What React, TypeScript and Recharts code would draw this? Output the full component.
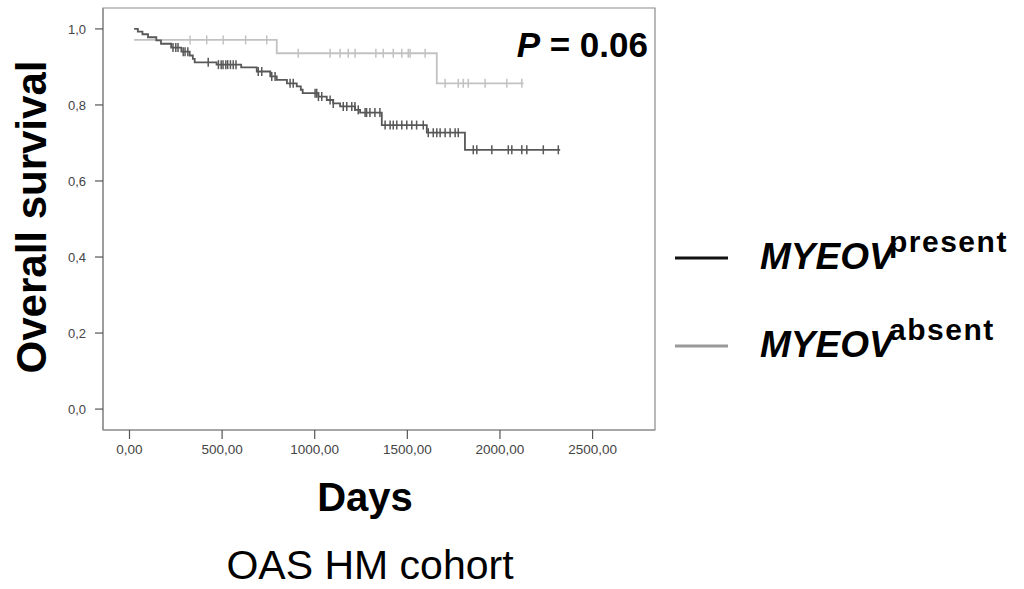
import React from "react";
import {
  ComposedChart,
  Line,
  Scatter,
  XAxis,
  YAxis,
  ReferenceArea,
} from "recharts";

// Kaplan-Meier step events (days, survival after event)
const presentTimes = [25, 45, 70, 100, 145, 170, 225, 280, 325, 342, 352, 470, 603, 687, 760, 795, 850, 903, 925, 935, 1020, 1065, 1100, 1137, 1218, 1245, 1362, 1605, 1811, 2325];
const presentSurv = [1.0, 0.993, 0.986, 0.978, 0.97, 0.961, 0.951, 0.94, 0.93, 0.921, 0.912, 0.906, 0.899, 0.888, 0.875, 0.866, 0.857, 0.849, 0.84, 0.831, 0.822, 0.813, 0.804, 0.796, 0.787, 0.78, 0.747, 0.727, 0.682, 0.682];
const presentCensor = [235, 250, 262, 290, 300, 315, 425, 480, 495, 505, 520, 530, 545, 560, 575, 695, 714, 768, 786, 867, 884, 1002, 1011, 1020, 1038, 1083, 1100, 1154, 1173, 1200, 1217, 1235, 1272, 1280, 1298, 1325, 1352, 1380, 1407, 1424, 1443, 1470, 1497, 1524, 1550, 1586, 1613, 1640, 1659, 1677, 1704, 1731, 1758, 1775, 1856, 1875, 1956, 2045, 2064, 2118, 2145, 2234, 2315];

const absentTimes = [25, 795, 1659, 2127];
const absentSurv = [0.971, 0.936, 0.857, 0.857];
const absentCensor = [327, 417, 506, 627, 741, 911, 1083, 1137, 1181, 1218, 1330, 1370, 1424, 1470, 1505, 1515, 1596, 1704, 1775, 1802, 1829, 1920, 2037, 2118];

const xTicks = [0, 500, 1000, 1500, 2000, 2500];
const xTickLabels = ["0,00", "500,00", "1000,00", "1500,00", "2000,00", "2500,00"];
const yTicks = [0, 0.2, 0.4, 0.6, 0.8, 1.0];
const yTickLabels = ["0,0", "0,2", "0,4", "0,6", "0,8", "1,0"];

const X_DOMAIN: [number, number] = [-143, 2837];
const Y_DOMAIN: [number, number] = [-0.055, 1.055];

const buildSteps = (times: number[], surv: number[]) =>
  times.map((d, i) => ({ d, v: surv[i] }));

const survAt = (times: number[], surv: number[], t: number) => {
  let v = surv[0];
  for (let i = 0; i < times.length; i++) {
    if (times[i] <= t) v = surv[i];
  }
  return v;
};

const presentData = buildSteps(presentTimes, presentSurv);
const absentData = buildSteps(absentTimes, absentSurv);
const presentCensorData = presentCensor.map((d) => ({ d, v: survAt(presentTimes, presentSurv, d) }));
const absentCensorData = absentCensor.map((d) => ({ d, v: survAt(absentTimes, absentSurv, d) }));

const PRESENT = "#585858";
const ABSENT = "#c2c2c2";
const FRAME = "#8a8a8a";
const FONT = "'Liberation Sans', Arial, Helvetica, sans-serif";

const makeTick = (color: string) => (props: any) => {
  const { cx, cy } = props;
  if (cx == null || cy == null) return <g />;
  return <line x1={cx} x2={cx} y1={cy - 4.5} y2={cy + 4.5} stroke={color} strokeWidth={1.5} />;
};

export default function App() {
  return (
    <div style={{ position: "absolute", left: 0, top: 0, width: 1024, height: 589, background: "#fff" }}>
      <ComposedChart
        width={1024}
        height={589}
        margin={{ top: 8, right: 369, bottom: 119, left: 43 }}
      >
        <XAxis
          type="number"
          dataKey="d"
          domain={X_DOMAIN}
          allowDataOverflow
          ticks={xTicks}
          tickFormatter={(v: number) => xTickLabels[xTicks.indexOf(v)] ?? ""}
          height={40}
          tickSize={9}
          tickMargin={5}
          tick={{ fill: "#444", fontSize: 13.5, fontFamily: FONT }}
          axisLine={{ stroke: FRAME, strokeWidth: 1.2 }}
          tickLine={{ stroke: "#555", strokeWidth: 1.2 }}
        />
        <YAxis
          type="number"
          domain={Y_DOMAIN}
          allowDataOverflow
          ticks={yTicks}
          tickFormatter={(v: number) => yTickLabels[yTicks.indexOf(v)] ?? ""}
          width={60}
          tickSize={8}
          tickMargin={9}
          tick={{ fill: "#444", fontSize: 13, fontFamily: FONT }}
          axisLine={{ stroke: FRAME, strokeWidth: 1.2 }}
          tickLine={{ stroke: "#555", strokeWidth: 1.2 }}
        />
        <ReferenceArea
          x1={X_DOMAIN[0]}
          x2={X_DOMAIN[1]}
          y1={Y_DOMAIN[0]}
          y2={Y_DOMAIN[1]}
          fill="none"
          fillOpacity={0}
          stroke={FRAME}
          strokeWidth={1.2}
          ifOverflow="visible"
        />
        <Line
          data={absentData}
          dataKey="v"
          type="stepAfter"
          stroke={ABSENT}
          strokeWidth={1.8}
          dot={false}
          activeDot={false}
          isAnimationActive={false}
        />
        <Scatter
          data={absentCensorData}
          dataKey="v"
          shape={makeTick(ABSENT)}
          isAnimationActive={false}
        />
        <Line
          data={presentData}
          dataKey="v"
          type="stepAfter"
          stroke={PRESENT}
          strokeWidth={1.8}
          dot={false}
          activeDot={false}
          isAnimationActive={false}
        />
        <Scatter
          data={presentCensorData}
          dataKey="v"
          shape={makeTick(PRESENT)}
          isAnimationActive={false}
        />
      </ComposedChart>
      <svg
        width={1024}
        height={589}
        style={{ position: "absolute", left: 0, top: 0, pointerEvents: "none" }}
      >
        <text
          x={46}
          y={217}
          transform="rotate(-90 46 217)"
          textAnchor="middle"
          fontFamily={FONT}
          fontWeight="bold"
          fontSize={42}
          fill="#000"
        >
          Overall survival
        </text>
        <text x={648} y={57} textAnchor="end" fontFamily={FONT} fontWeight="bold" fontSize={35} fill="#000">
          <tspan fontStyle="italic">P</tspan> = 0.06
        </text>
        <text x={365} y={511} textAnchor="middle" fontFamily={FONT} fontWeight="bold" fontSize={40} fill="#000">
          Days
        </text>
        <text x={370} y={579} textAnchor="middle" fontFamily={FONT} fontSize={41} fill="#000">
          OAS HM cohort
        </text>
        <line x1={675} x2={728} y1={258} y2={258} stroke="#111" strokeWidth={3} />
        <text x={760} y={269} fontFamily={FONT} fontWeight="bold" fontStyle="italic" fontSize={37} fill="#000">
          MYEOV
        </text>
        <text x={889} y={252} fontFamily={FONT} fontWeight="bold" fontSize={30} letterSpacing={1.5} fill="#000">
          present
        </text>
        <line x1={675} x2={728} y1={346} y2={346} stroke="#999" strokeWidth={3} />
        <text x={760} y={357} fontFamily={FONT} fontWeight="bold" fontStyle="italic" fontSize={37} fill="#000">
          MYEOV
        </text>
        <text x={889} y={340} fontFamily={FONT} fontWeight="bold" fontSize={30} letterSpacing={1.5} fill="#000">
          absent
        </text>
      </svg>
    </div>
  );
}
